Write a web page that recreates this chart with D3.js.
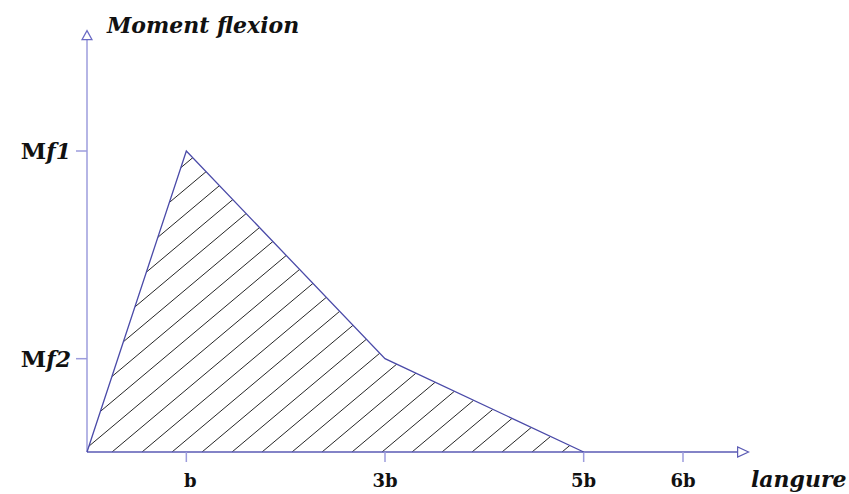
<!DOCTYPE html>
<html>
<head>
<meta charset="utf-8">
<script src="https://cdn.jsdelivr.net/npm/d3@7"></script>
<style>
  html, body { margin: 0; padding: 0; background: #fff; }
  svg { display: block; }
  text { font-family: "DejaVu Serif", "Liberation Serif", serif; font-weight: bold; fill: #111; }
</style>
</head>
<body>
<div id="chart"></div>
<script>
// Bending moment diagram (Moment flexion vs langure)

// points of the diagram, x in units of b, y relative to Mf1
const xValues = [0, 1, 3, 5];
const yValues = [0, 1, 0.31, 0];

// axis ticks
const xTickValues = [1, 3, 5, 6];
const xTickLabels = ['b', '3b', '5b', '6b'];
const yTickValues = [1, 0.31];
const yTickLabels = [['M', 'f1'], ['M', 'f2']];

const width = 849, height = 494;

const svg = d3.select('#chart').append('svg')
  .attr('width', width)
  .attr('height', height);

const x = d3.scaleLinear().domain([0, 6]).range([87, 683]);
const y = d3.scaleLinear().domain([0, 1]).range([452, 151]);

const axisColor = '#5a5ab4';
const yAxisColor = '#9c9cdc';

const pts = xValues.map((v, i) => [x(v), y(yValues[i])]);
const area = d3.line()(pts) + 'Z';

// clip for the hatching
svg.append('defs').append('clipPath')
  .attr('id', 'clip-area')
  .append('path')
  .attr('d', area);

// Hatching: lines at 40deg, 30px apart along the x axis
const slope = Math.tan(40 * Math.PI / 180);
const hatchH = y(0) - y(1) + 10;
const starts = d3.range(92 - 400, x(5) + 10, 30);
svg.append('g')
  .attr('clip-path', 'url(#clip-area)')
  .selectAll('line')
  .data(starts)
  .join('line')
  .attr('x1', d => d)
  .attr('y1', y(0))
  .attr('x2', d => d + hatchH / slope)
  .attr('y2', y(0) - hatchH)
  .attr('stroke', '#262626')
  .attr('stroke-width', 1);

// Y axis
svg.append('line')
  .attr('x1', x(0)).attr('x2', x(0))
  .attr('y1', y(0)).attr('y2', y(1.37))
  .attr('stroke', yAxisColor).attr('stroke-width', 1.5);
svg.append('path')
  .attr('d', `M${x(0)},${y(1.4)} L${x(0) - 5},${y(1.37)} L${x(0) + 5},${y(1.37)} Z`)
  .attr('fill', '#fff').attr('stroke', '#6a6ac4').attr('stroke-width', 1.2);

// X axis
svg.append('line')
  .attr('x1', x(0)).attr('x2', x(6.55))
  .attr('y1', y(0)).attr('y2', y(0))
  .attr('stroke', axisColor).attr('stroke-width', 1.5);
svg.append('path')
  .attr('d', `M${x(6.66)},${y(0)} L${x(6.55)},${y(0) - 5} L${x(6.55)},${y(0) + 5} Z`)
  .attr('fill', '#fff').attr('stroke', axisColor).attr('stroke-width', 1.2);

// X ticks
xTickValues.forEach((v, i) => {
  svg.append('line')
    .attr('x1', x(v)).attr('x2', x(v))
    .attr('y1', y(0)).attr('y2', y(0) + 10)
    .attr('stroke', yAxisColor).attr('stroke-width', 1.5);
  svg.append('text')
    .attr('x', x(v) + (i === 0 ? 4 : 0)).attr('y', 487)
    .attr('text-anchor', 'middle')
    .attr('font-size', 18)
    .text(xTickLabels[i]);
});

// Y ticks
yTickValues.forEach((v, i) => {
  svg.append('line')
    .attr('x1', x(0) - 11).attr('x2', x(0))
    .attr('y1', y(v)).attr('y2', y(v))
    .attr('stroke', yAxisColor).attr('stroke-width', 1.5);
  const t = svg.append('text')
    .attr('x', x(0) - 16).attr('y', y(v) + 8)
    .attr('text-anchor', 'end')
    .attr('font-size', 22);
  t.append('tspan').attr('font-size', 23).text(yTickLabels[i][0]);
  t.append('tspan').attr('font-style', 'italic').text(yTickLabels[i][1]);
});

// Diagram outline
svg.append('path')
  .attr('d', d3.line()(pts))
  .attr('fill', 'none')
  .attr('stroke', '#4a4aa8')
  .attr('stroke-width', 1.3);

// Axis titles
svg.append('text')
  .attr('x', 107).attr('y', 33)
  .attr('font-size', 22)
  .attr('font-style', 'italic')
  .text('Moment flexion');

svg.append('text')
  .attr('x', 751).attr('y', 487)
  .attr('font-size', 22)
  .attr('font-style', 'italic')
  .text('langure');
</script>
</body>
</html>
